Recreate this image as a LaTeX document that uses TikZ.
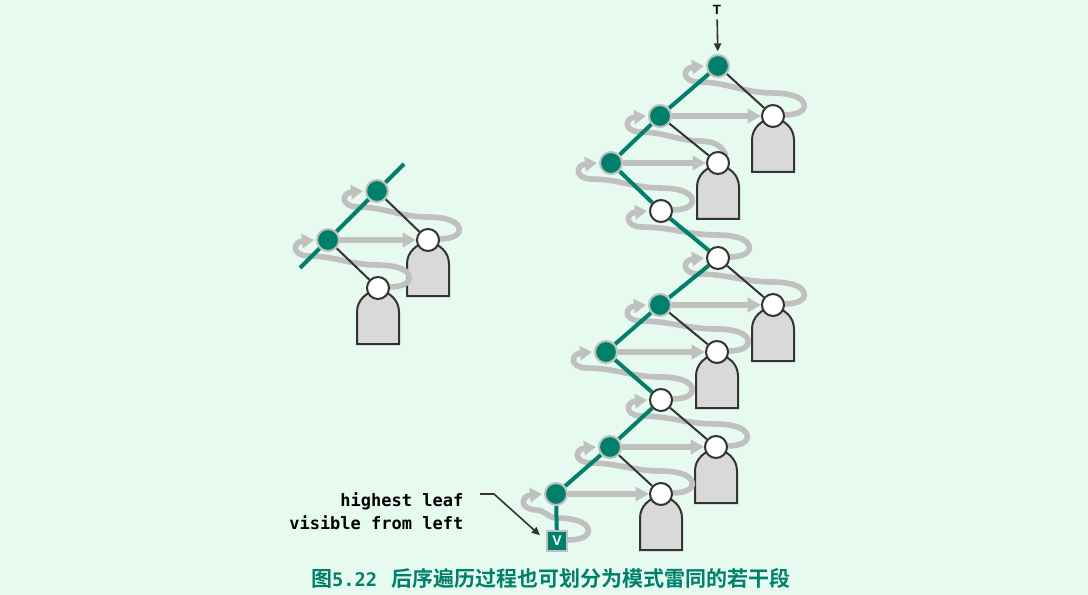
\documentclass[tikz,border=0pt]{standalone}
\usepackage{fontspec}
\setmonofont{DejaVu Sans Mono}
\setsansfont{Liberation Sans}
\newfontfamily\cjk{Noto Sans CJK SC}[BoldFont={Noto Sans CJK SC Bold}]
\usetikzlibrary{arrows.meta,calc}
\definecolor{bgmint}{RGB}{230,250,240}
\definecolor{spine}{RGB}{0,128,106}
\definecolor{trail}{RGB}{192,192,192}
\definecolor{stonegray}{RGB}{217,217,217}
\definecolor{ink}{RGB}{51,51,51}
\pgfdeclarelayer{back}
\pgfdeclarelayer{mid}
\pgfsetlayers{back,mid,main}
\tikzset{
  pathnode/.style={circle,minimum size=16.5pt,inner sep=0pt,fill=spine,draw=trail,line width=1.5pt},
  opennode/.style={circle,minimum size=16.5pt,inner sep=0pt,fill=white,draw=ink,line width=1.5pt},
  leafbox/.style={rectangle,minimum size=14.5pt,inner sep=0pt,fill=spine,draw=trail,line width=1.5pt,
    text=white,font=\sffamily\bfseries\fontsize{10.5}{10.5}\selectfont},
  treeedge/.style={draw=ink,line width=1.5pt},
  spineline/.style={draw=spine,line width=3pt},
  hop/.style={draw=trail,line width=4.2pt,-{Triangle[length=10pt,width=10.5pt]}},
  backloop/.style={draw=trail,line width=4.2pt,-{Triangle[length=9pt,width=10.5pt]}},
  tomb/.style={fill=stonegray,draw=ink,line width=1.5pt},
  pointer/.style={draw=ink,line width=1.2pt,-{Triangle[length=6pt,width=5.5pt]}}
}
\begin{document}
\begin{tikzpicture}[x=0.75pt,y=-0.75pt]
  \begin{pgfonlayer}{back}
    \fill[bgmint] (0,0) rectangle (1088,595);
  \end{pgfonlayer}
  \useasboundingbox (0,0) rectangle (1088,595);

  % one segment on the left
  \node[pathnode] (a1) at (377,191) {};
  \node[pathnode] (a2) at (328,240) {};
  \node[opennode] (la1) at (428,240) {};
  \node[opennode] (la2) at (378,288) {};
  \coordinate (atop) at (404,164);
  \coordinate (abot) at (300,268);

  % the whole tree
  \node[font=\sffamily\bfseries\fontsize{10}{10}\selectfont,text=black] (T) at (717,10) {T};
  \node[pathnode] (r1) at (718,66) {};
  \node[pathnode] (r2) at (660,116) {};
  \node[pathnode] (r3) at (611,163) {};
  \node[opennode] (r4) at (661,211) {};
  \node[opennode] (r5) at (718,258) {};
  \node[pathnode] (r6) at (660,305) {};
  \node[pathnode] (r7) at (606,352) {};
  \node[opennode] (r8) at (661,400) {};
  \node[pathnode] (r9) at (610,447) {};
  \node[pathnode] (r10) at (556,494) {};
  \node[leafbox] (v) at (557,541) {V};
  \node[opennode] (c1) at (773,116) {};
  \node[opennode] (c2) at (718,163) {};
  \node[opennode] (c5) at (773,305) {};
  \node[opennode] (c6) at (717,352) {};
  \node[opennode] (c8) at (716,447) {};
  \node[opennode] (c9) at (661,494) {};

  \begin{pgfonlayer}{back}
    \foreach \s in {la1,la2,c1,c2,c5,c6,c8,c9}
      \draw[tomb] ($(\s)+(-21,56)$) -- ($(\s)+(-21,24)$)
        arc[start angle=180,end angle=360,radius=21] -- ($(\s)+(21,56)$) -- cycle;
    \foreach \from/\to in {la1/a1,la2/a2,c1/r1,r4/r3,r5/r4,c5/r5,c6/r6,r8/r7,c8/r8,c9/r9,v/r10}
      \draw[backloop] ($(\from)+(11,-1)$) .. controls ($(\from)+(24,-1)$) and ($(\from)+(33,-5)$) .. ($(\from)+(31,-12)$)
        .. controls ($(\from)+(29,-20)$) and ($(\from)+(14,-23)$) .. ($(\from)+(0,-23)$)
        to[out=180,in=0] ($(\to)+(-20,16)$)
        .. controls ($(\to)+(-37,15)$) and ($(\to)+(-35,2)$) .. ($(\to)+(-14,0)$);
    % this one slips in behind its circle
    \draw[backloop] ($(c2)+(8,-7)$) .. controls ($(c2)+(4,-17)$) and ($(c2)+(-2,-21)$) .. ($(c2)+(-16,-22)$)
      to[out=180,in=0] ($(r2)+(-20,16)$)
      .. controls ($(r2)+(-37,15)$) and ($(r2)+(-35,2)$) .. ($(r2)+(-14,0)$);
  \end{pgfonlayer}

  \begin{pgfonlayer}{mid}
    \foreach \from/\to in {a1/la1,a2/la2,r1/c1,r2/c2,r5/c5,r6/c6,r8/c8,r9/c9}
      \draw[treeedge] (\from) -- (\to);
    \draw[spineline] (atop) -- (a1) -- (a2) -- (abot);
    \foreach \from/\to in {r1/r2,r2/r3,r3/r4,r4/r5,r5/r6,r6/r7,r7/r8,r8/r9,r9/r10,r10/v}
      \draw[spineline] (\from) -- (\to);
  \end{pgfonlayer}

  \foreach \from/\to in {a2/la1,r2/c1,r3/c2,r6/c5,r7/c6,r9/c8,r10/c9}
    \draw[hop] (\from) -- (\to);

  \draw[pointer,shorten >=2pt] (T) -- (r1);

  \node[font=\fontsize{12.75}{17.25}\selectfont\ttfamily\bfseries,align=right,anchor=east,text=black] (note) at (468,511)
    {highest leaf\\visible from left};
  \coordinate (p0) at (480,494);
  \draw[pointer,shorten >=6.5pt] (p0) -- ++(14,0) -- (v.west);

  \node[text=spine,font=\fontsize{15.75}{18}\selectfont] (cap) at (551,578)
    {{\cjk\bfseries 图}{\ttfamily\bfseries\fontsize{14}{18}\selectfont 5.22}\hspace{0.7em}{\cjk\bfseries 后序遍历过程也可划分为模式雷同的若干段}};
\end{tikzpicture}
\end{document}
